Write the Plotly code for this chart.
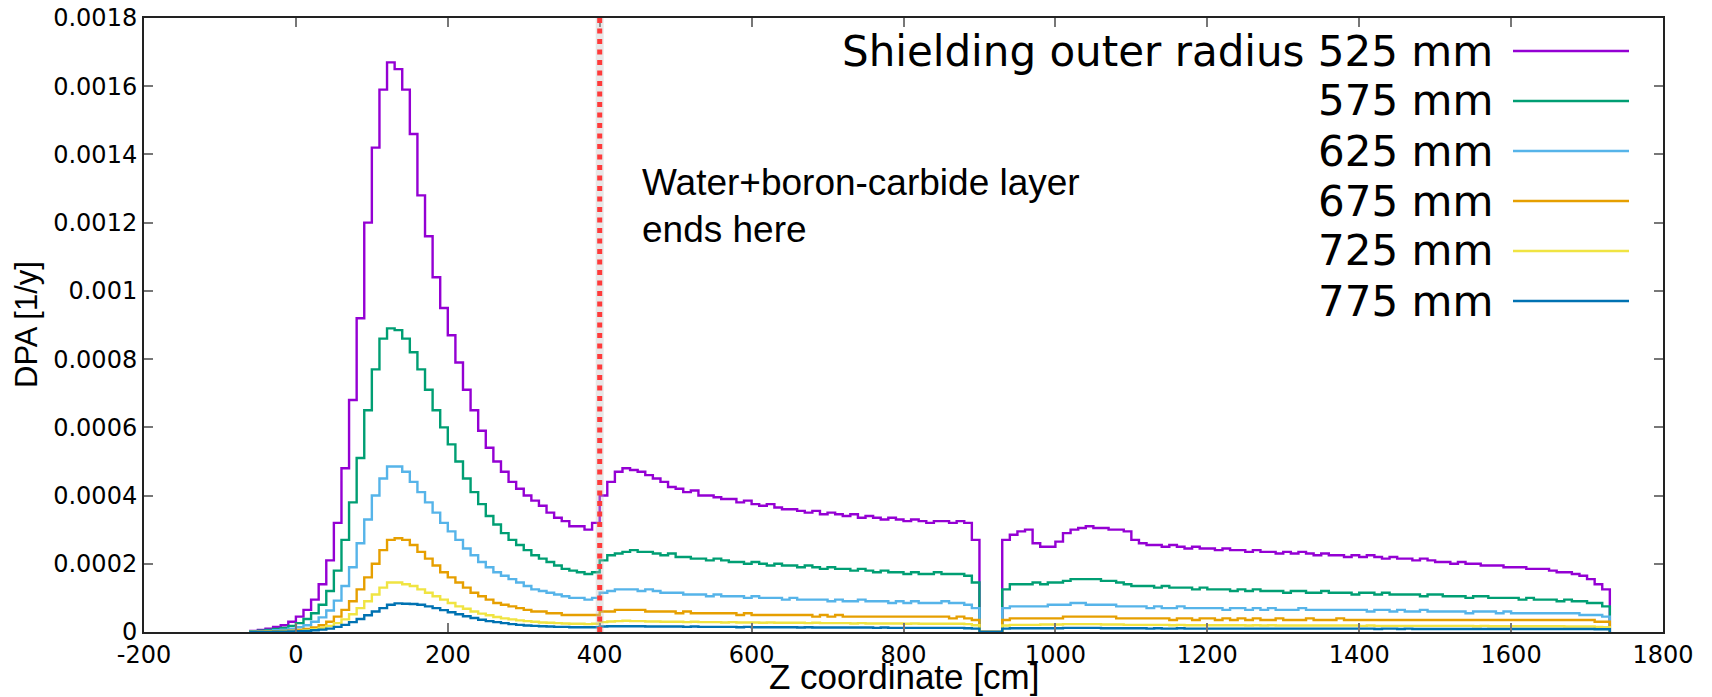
import plotly.graph_objects as go

# ---------------- data ----------------
# histogram bins: 10 cm wide, left edges from -60 cm to 1720 cm (right end 1730 cm)
bin_left_edges = list(range(-60, 1730, 10))
bin_right_end = 1730

# DPA values in units of 1e-5 1/y, one per bin
dpa_525 = [
    0.3, 0.6, 1.0, 1.5, 2.0, 3.0, 4.5, 6.5, 9.5, 14,
    21, 32, 48, 68, 92, 120, 142, 159, 167, 165,
    159, 146, 128, 116, 104, 95, 87, 79, 71, 65,
    59, 54, 50, 47, 44, 42, 40, 38.5, 37, 35,
    33.5, 32.5, 31, 31, 30, 32, 40, 44, 47, 48,
    47.5, 47, 46, 45, 44, 42.5, 42, 41, 41.5, 40,
    40, 39.5, 39, 39, 38, 38.5, 37.5, 37, 37.5, 36.5,
    36, 36, 35.5, 35, 35.5, 34.5, 35, 34.5, 34, 34.5,
    33.5, 34, 33.5, 33, 33.5, 33, 32.5, 33, 32.5, 32,
    32.5, 32.5, 32, 32.5, 32, 27, 0, 0, 0, 27,
    28.5, 29.5, 30, 26, 25, 25, 26.5, 29, 30, 30.5,
    31, 30.5, 30.5, 30, 30, 29.5, 27, 26, 25.5, 25.5,
    25, 25.5, 25, 24.5, 25, 24.5, 24.5, 24, 24.5, 24,
    24, 23.5, 24, 23.5, 23.5, 23, 23.5, 23, 23.5, 23,
    22.5, 23, 22.5, 22.5, 22, 22.5, 22, 22.5, 22, 21.5,
    22, 21.5, 21.5, 21, 21.5, 21, 20.5, 20.5, 20, 20.5,
    20, 20, 19.5, 19.5, 19.5, 19, 19, 19, 18.5, 18.5,
    18.5, 18, 17.5, 17.5, 17, 16.5, 15.5, 14, 12.5,
]
dpa_575 = [
    0.2, 0.4, 0.6, 0.9, 1.2, 1.8, 2.6, 3.8, 5.5, 8,
    12, 18, 27, 38, 51, 65, 77, 86, 89, 88.5,
    86, 82, 77, 71, 65, 60, 55, 50, 45, 41,
    37.5, 34, 31.5, 29, 27, 25.5, 24, 22.5, 21.5, 20.5,
    19.5, 18.5, 18, 17.5, 17, 17.5, 21, 22.5, 23, 23.5,
    24, 23.5, 23.5, 23, 22.5, 23, 22, 22, 21.5, 21.5,
    21, 21.5, 21, 20.5, 20.5, 20, 20.5, 20, 19.5, 20,
    19.5, 19.5, 19, 19.5, 19, 18.5, 19, 18.5, 18.5, 18,
    18.5, 18, 17.5, 18, 17.5, 17.5, 17, 17.5, 17, 17,
    17.5, 17, 17, 17, 16.5, 14.5, 0, 0, 0, 12.5,
    14, 14, 14, 14.5, 14, 14.5, 14.5, 15, 15.5, 15.5,
    15.5, 15.5, 15, 15, 14.5, 14, 13.5, 13.5, 13.5, 13,
    13.5, 13, 13, 13, 12.5, 13, 12.5, 12.5, 12.5, 12,
    12.5, 12, 12.5, 12, 12, 12, 11.5, 12, 12, 11.5,
    11.5, 12, 11.5, 11.5, 11.5, 11, 11.5, 11.5, 11, 11.5,
    11, 11, 11, 11, 10.5, 11, 11, 10.5, 10.5, 10.5,
    10, 10.5, 10.5, 10, 10, 10, 10, 9.5, 10, 9.5,
    9.5, 9.5, 9, 9.5, 9, 9, 8.5, 8.5, 7.5,
]
dpa_625 = [
    0.1, 0.2, 0.3, 0.5, 0.7, 1.0, 1.4, 2.0, 3.0, 4.3,
    6.3, 9.2, 13.5, 19, 26, 33, 40, 45, 48.5, 48.5,
    47, 44, 41, 38, 35, 32, 29.5, 27, 24.5, 22.5,
    20.5, 19, 17.5, 16.5, 15.5, 14.5, 13.5, 12.5, 12, 11.5,
    11, 10.5, 10, 10, 9.5, 10, 11.5, 12, 12.5, 12.5,
    12.5, 12, 12.5, 12, 11.5, 11.5, 11.5, 11, 11, 11,
    10.5, 11, 10.5, 10.5, 10.5, 10, 10.5, 10, 10, 10,
    9.5, 10, 9.5, 9.5, 9.5, 9.5, 9, 9.5, 9, 9,
    9.5, 9, 9, 9, 8.5, 9, 8.5, 9, 8.5, 8.5,
    8.5, 9, 8.5, 8.5, 8, 7, 0, 0, 0, 7,
    7.5, 7.5, 7.5, 7.5, 7.5, 8, 8, 8, 8.5, 8.5,
    8, 8, 8, 8, 7.5, 7.5, 7.5, 7.5, 7, 7.5,
    7, 7, 7.5, 7, 7, 7, 7, 7, 6.5, 7,
    7, 6.5, 7, 6.5, 7, 6.5, 6.5, 6.5, 7, 6.5,
    6.5, 6.5, 6.5, 6.5, 6.5, 6.5, 6.5, 6, 6.5, 6.5,
    6, 6.5, 6, 6, 6.5, 6, 6, 6, 6, 6,
    5.5, 6, 6, 6, 5.5, 6, 5.5, 5.5, 5.5, 5.5,
    5.5, 5.5, 5.5, 5.5, 5.5, 5, 5, 5, 4.5,
]
dpa_675 = [
    0.05, 0.1, 0.15, 0.2, 0.3, 0.4, 0.6, 0.9, 1.3, 2.0,
    3.0, 4.5, 6.5, 9.0, 12.5, 16, 20, 24, 27, 27.5,
    27, 25.5, 23.5, 21.5, 19.5, 17.5, 16, 14.5, 13, 11.5,
    10.5, 9.5, 8.5, 8, 7.5, 7, 6.5, 6, 6, 5.5,
    5.5, 5, 5, 5, 5, 5, 6, 6, 6.5, 6.5,
    6.5, 6.5, 6, 6, 6, 6, 5.5, 6, 5.5, 5.5,
    5.5, 5.5, 5.5, 5.5, 5, 5.5, 5, 5, 5, 5,
    5, 5, 5, 5, 4.5, 5, 4.5, 5, 4.5, 4.5,
    4.5, 4.5, 4.5, 4.5, 4.5, 4.5, 4.5, 4.5, 4.5, 4.5,
    4.5, 4.5, 4, 4.5, 4, 3.5, 0, 0, 0, 3.5,
    4, 4, 4, 4, 4, 4, 4, 4.5, 4.5, 4.5,
    4.5, 4.5, 4.5, 4.5, 4, 4, 4, 4, 4, 4,
    4, 3.5, 4, 4, 3.5, 4, 4, 3.5, 4, 3.5,
    4, 3.5, 4, 3.5, 3.5, 4, 3.5, 3.5, 3.5, 4,
    3.5, 3.5, 3.5, 4, 3.5, 3.5, 3.5, 3.5, 3.5, 3.5,
    3.5, 3.5, 3.5, 3.5, 3.5, 3.5, 3.5, 3.5, 3.5, 3.5,
    3.5, 3.5, 3.5, 3.5, 3.5, 3.5, 3.5, 3.5, 3.5, 3.5,
    3.5, 3.5, 3.5, 3.5, 3.5, 3.5, 3.5, 3, 3,
]
dpa_725 = [
    0.03, 0.05, 0.08, 0.1, 0.15, 0.2, 0.3, 0.5, 0.8, 1.2,
    1.8, 2.6, 3.7, 5.2, 7, 9, 11, 13, 14.5, 14.5,
    14, 13.5, 12.5, 11.5, 10.5, 9.5, 8.5, 7.5, 6.8, 6,
    5.4, 4.9, 4.4, 4, 3.7, 3.4, 3.2, 3, 2.8, 2.7,
    2.6, 2.5, 2.4, 2.4, 2.3, 2.4, 2.9, 3.1, 3.2, 3.3,
    3.2, 3.2, 3.1, 3.1, 3.0, 3.0, 3.0, 2.9, 3.0, 2.9,
    2.9, 2.9, 2.8, 2.9, 2.8, 2.8, 2.8, 2.7, 2.8, 2.7,
    2.7, 2.7, 2.7, 2.6, 2.7, 2.6, 2.6, 2.6, 2.6, 2.5,
    2.6, 2.5, 2.5, 2.5, 2.5, 2.5, 2.4, 2.5, 2.4, 2.4,
    2.4, 2.4, 2.4, 2.4, 2.3, 2.0, 0, 0, 0, 1.9,
    2.1, 2.1, 2.1, 2.1, 2.2, 2.2, 2.2, 2.3, 2.3, 2.3,
    2.3, 2.3, 2.2, 2.2, 2.2, 2.1, 2.1, 2.1, 2.1, 2.1,
    2.1, 2.0, 2.1, 2.0, 2.0, 2.0, 2.0, 2.0, 2.0, 2.0,
    2.0, 1.9, 2.0, 1.9, 2.0, 1.9, 1.9, 1.9, 1.9, 1.9,
    1.9, 1.9, 1.9, 1.9, 1.9, 1.9, 1.8, 1.9, 1.8, 1.8,
    1.8, 1.8, 1.8, 1.8, 1.8, 1.8, 1.8, 1.8, 1.8, 1.8,
    1.8, 1.7, 1.8, 1.7, 1.7, 1.7, 1.7, 1.7, 1.7, 1.7,
    1.7, 1.7, 1.7, 1.6, 1.6, 1.6, 1.6, 1.5, 1.4,
]
dpa_775 = [
    0.02, 0.03, 0.05, 0.07, 0.1, 0.15, 0.2, 0.3, 0.5, 0.7,
    1.0, 1.5, 2.1, 2.9, 3.8, 4.9, 6, 7, 8, 8.4,
    8.3, 8.2, 8, 7.5, 7, 6.4, 5.8, 5.2, 4.6, 4.1,
    3.6, 3.2, 2.9, 2.6, 2.3, 2.1, 1.9, 1.8, 1.7, 1.6,
    1.5, 1.5, 1.4, 1.4, 1.4, 1.4, 1.6, 1.7, 1.7, 1.7,
    1.7, 1.7, 1.6, 1.6, 1.6, 1.6, 1.6, 1.5, 1.6, 1.5,
    1.5, 1.5, 1.5, 1.5, 1.4, 1.5, 1.4, 1.4, 1.4, 1.4,
    1.4, 1.4, 1.3, 1.4, 1.3, 1.3, 1.3, 1.3, 1.3, 1.3,
    1.3, 1.3, 1.2, 1.3, 1.2, 1.2, 1.2, 1.2, 1.2, 1.2,
    1.2, 1.2, 1.2, 1.2, 1.1, 1.0, 0, 0, 0, 1.0,
    1.1, 1.1, 1.1, 1.1, 1.1, 1.1, 1.1, 1.2, 1.2, 1.2,
    1.2, 1.2, 1.1, 1.1, 1.1, 1.1, 1.1, 1.1, 1.0, 1.1,
    1.0, 1.0, 1.1, 1.0, 1.0, 1.0, 1.0, 1.0, 1.0, 1.0,
    1.0, 1.0, 1.0, 1.0, 1.0, 1.0, 1.0, 1.0, 1.0, 1.0,
    1.0, 1.0, 1.0, 1.0, 1.0, 1.0, 1.0, 1.0, 0.9, 1.0,
    1.0, 0.9, 1.0, 0.9, 0.9, 0.9, 0.9, 0.9, 0.9, 0.9,
    0.9, 0.9, 0.9, 0.9, 0.9, 0.9, 0.9, 0.9, 0.9, 0.9,
    0.9, 0.9, 0.9, 0.9, 0.9, 0.9, 0.9, 0.8, 0.8,
]
value_unit = 1e-5

series_labels = ["Shielding outer radius 525 mm", "575 mm", "625 mm",
                 "675 mm", "725 mm", "775 mm"]
series_values = [dpa_525, dpa_575, dpa_625, dpa_675, dpa_725, dpa_775]
series_colors = ["#9400d3", "#009e73", "#56b4e9", "#e69f00", "#f0e442", "#0072b2"]

layer_end_z = 400
annotation_lines = ["Water+boron-carbide layer", "ends here"]

x_tick_values = [-200, 0, 200, 400, 600, 800, 1000, 1200, 1400, 1600, 1800]
x_tick_labels = ["-200", "0", "200", "400", "600", "800", "1000", "1200", "1400", "1600", "1800"]
y_tick_values = [0, 0.0002, 0.0004, 0.0006, 0.0008, 0.001, 0.0012, 0.0014, 0.0016, 0.0018]
y_tick_labels = ["0", "0.0002", "0.0004", "0.0006", "0.0008", "0.001",
                 "0.0012", "0.0014", "0.0016", "0.0018"]

# ---------------- figure ----------------
W, H = 1712, 697
L, R, T, B = 144, 49, 18, 65
pw, ph = W - L - R, H - T - B

def px_x(p):
    return (p - L) / pw

def px_y(p):
    return (H - B - p) / ph

fig = go.Figure()

for name, vals, col in zip(series_labels, series_values, series_colors):
    xs = [bin_left_edges[0]] + bin_left_edges + [bin_right_end]
    ys = [0] + [v * value_unit for v in vals] + [0]
    fig.add_trace(go.Scatter(
        x=xs, y=ys, mode="lines", name=name,
        line=dict(color=col, width=2.4, shape="hv"),
        showlegend=False, hoverinfo="skip"))

shapes = []
# boundary of water+boron-carbide layer
shapes.append(dict(type="line", xref="x", yref="y domain", x0=layer_end_z, x1=layer_end_z,
                   y0=0, y1=1, line=dict(color="rgba(190,190,190,0.35)", width=8)))
shapes.append(dict(type="line", xref="x", yref="y domain", x0=layer_end_z, x1=layer_end_z,
                   y0=0, y1=1, line=dict(color="#ff3b3b", width=5, dash="5px,5.5px")))

annotations = []
# manual key (text right-aligned, sample on the right, gnuplot style)
row_px = [51, 101, 151, 201, 251, 301]
for lab, col, ry in zip(series_labels, series_colors, row_px):
    annotations.append(dict(xref="paper", yref="paper", x=px_x(1495), y=px_y(ry),
                            xanchor="right", yanchor="middle", showarrow=False, text=lab,
                            font=dict(family="DejaVu Sans", size=42, color="#000")))
    shapes.append(dict(type="line", xref="paper", yref="paper", x0=px_x(1513), x1=px_x(1629),
                       y0=px_y(ry), y1=px_y(ry), line=dict(color=col, width=2.6)))

for line_text, ly in zip(annotation_lines, [182, 229]):
    annotations.append(dict(xref="paper", yref="paper", x=px_x(640), y=px_y(ly),
                            xanchor="left", yanchor="middle", align="left", showarrow=False,
                            text=line_text,
                            font=dict(family="Liberation Sans", size=37, color="#000")))
# axis titles
annotations.append(dict(xref="paper", yref="paper", x=0.5, y=px_y(697),
                        xanchor="center", yanchor="bottom", showarrow=False,
                        text="Z coordinate [cm]", borderpad=0,
                        font=dict(family="Liberation Sans", size=35, color="#000")))
annotations.append(dict(xref="paper", yref="paper", x=px_x(26), y=0.5,
                        xanchor="center", yanchor="middle", showarrow=False, textangle=-90,
                        text="DPA [1/y]",
                        font=dict(family="Liberation Sans", size=31, color="#000")))

axis_common = dict(showgrid=False, zeroline=False, showline=True, linecolor="#222",
                   linewidth=2, mirror="allticks", ticks="inside", ticklen=9,
                   tickwidth=1.5, tickcolor="#777",
                   tickfont=dict(family="DejaVu Sans", size=24, color="#000"))

fig.update_layout(
    width=W, height=H,
    margin=dict(l=L, r=R, t=T, b=B, autoexpand=False),
    paper_bgcolor="white", plot_bgcolor="white",
    xaxis=dict(range=[-200, 1800], tickvals=x_tick_values, ticktext=x_tick_labels,
               **axis_common),
    yaxis=dict(range=[0, 0.0018], tickvals=y_tick_values, ticktext=y_tick_labels,
               **axis_common),
    shapes=shapes, annotations=annotations, showlegend=False,
)

fig.write_html("out.html")
